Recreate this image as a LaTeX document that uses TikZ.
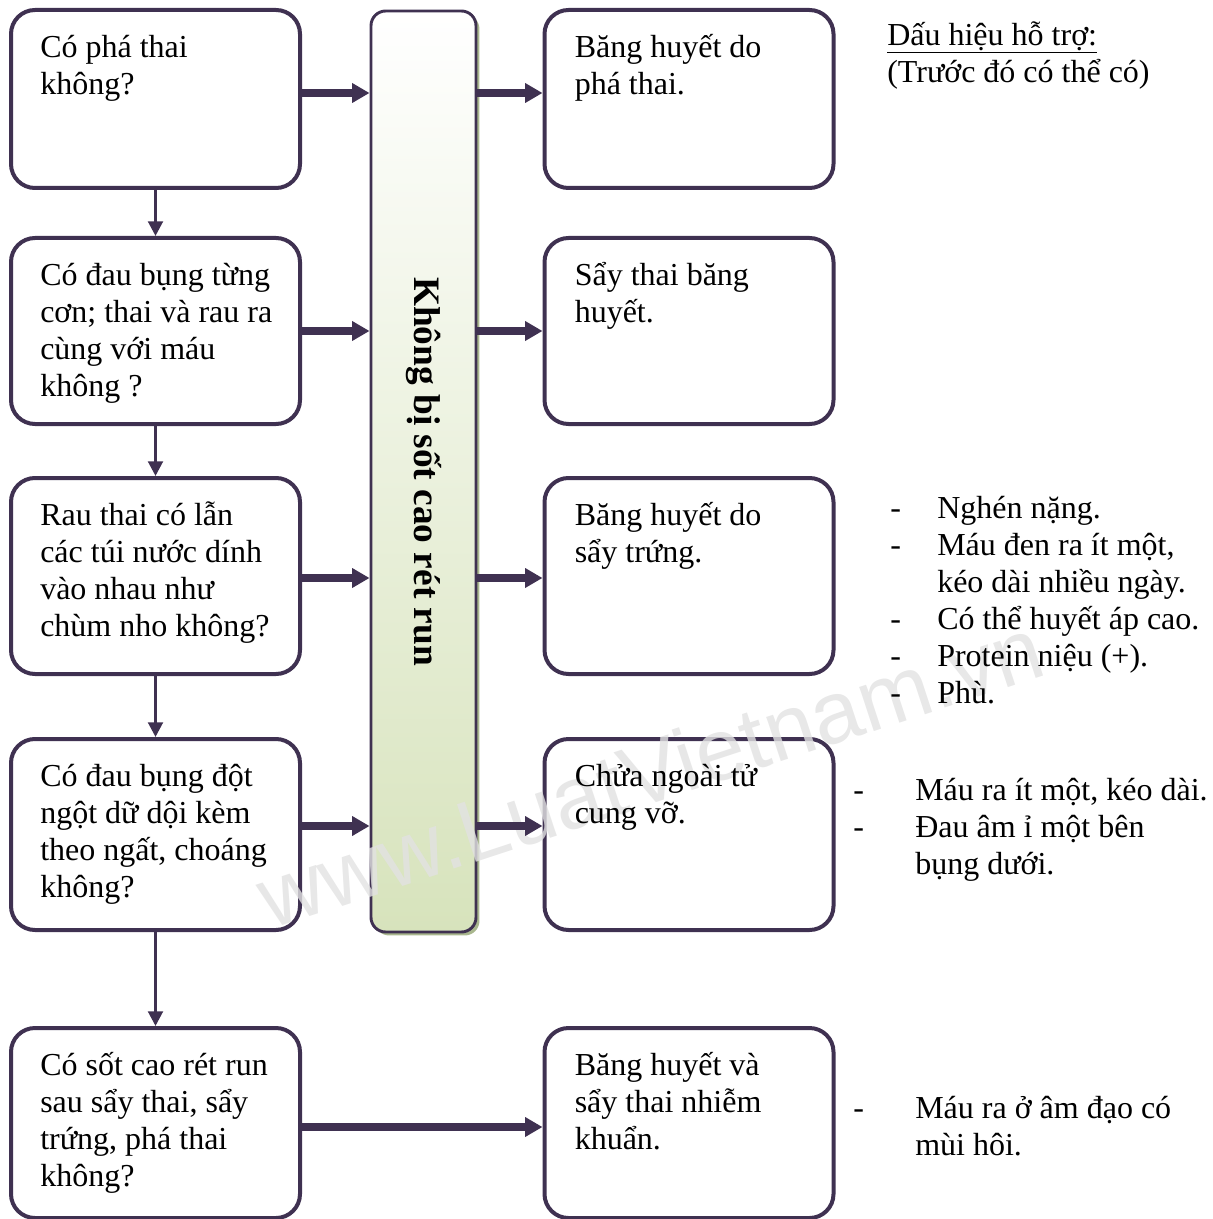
\documentclass[tikz,border=0pt]{standalone}
\usepackage{fontspec}
\setmainfont{Liberation Serif}
\newfontfamily\wmfont{Liberation Sans}
\usetikzlibrary{arrows.meta,calc,shadows}

\definecolor{edge}{HTML}{3F3151}
\definecolor{barbot}{HTML}{D7E3BC}
\definecolor{barshadow}{HTML}{A9B78E}
\definecolor{wmgray}{HTML}{E2E2E2}

% strut fixing the height of the first line of every text block
\newcommand\mystrut{\rule{0pt}{25pt}}
\newcommand\dashcol[1]{\makebox[#1][l]{-}}

\begin{document}
\begin{tikzpicture}[x=0.75pt,y=-0.75pt,
  box/.style={draw=edge, line width=3pt, rounded corners=18pt, fill=white,
    minimum width=216.75pt, inner sep=0pt},
  txt/.style={anchor=north west, inner sep=0pt, align=left,
    font=\fontsize{24pt}{27.75pt}\selectfont},
  bigarrow/.style={draw=edge, line width=5.5pt,
    -{Triangle[length=13pt,width=14pt]}},
  thinarrow/.style={draw=edge, line width=2.2pt,
    -{Triangle[length=11pt,width=11pt]}},
  barbox/.style={draw=edge, line width=2.2pt, rounded corners=11pt,
    top color=white, bottom color=barbot,
    drop shadow={shadow xshift=2.6pt, shadow yshift=-2.6pt, fill=barshadow, opacity=1},
    minimum width=78.75pt, minimum height=690.75pt, inner sep=0pt}
]
\useasboundingbox (0,0) rectangle (1212,1219);

% central bar
\node[barbox] (bar) at (423.5,471.5) {};

% question column
\node[box, minimum height=133.5pt] (L1) at (155.5,99) {};
\node[box, minimum height=139.5pt] (L2) at (155.5,331) {};
\node[box, minimum height=147pt]   (L3) at (155.5,576) {};
\node[box, minimum height=143.25pt](L4) at (155.5,834.5) {};
\node[box, minimum height=142.5pt] (L5) at (155.5,1123) {};

% diagnosis column
\node[box, minimum height=133.5pt] (R1) at (689,99) {};
\node[box, minimum height=139.5pt] (R2) at (689,331) {};
\node[box, minimum height=147pt]   (R3) at (689,576) {};
\node[box, minimum height=143.25pt](R4) at (689,834.5) {};
\node[box, minimum height=142.5pt] (R5) at (689,1123) {};

% site mark across the chart, under the lettering
\node[rotate=18.2, inner sep=0pt, text=wmgray, text opacity=0.8,
  font=\wmfont\fontsize{66pt}{70pt}\selectfont] (mark) at (650,772) {www.LuatVietnam.vn};

\node[rotate=-90, inner sep=0pt, font=\fontsize{28pt}{32pt}\selectfont\bfseries]
  (bartext) at (bar.center) {Không bị sốt cao rét run};

% texts in the boxes
\node[txt] (tL1) at ($(L1.north west)+(31,15.67)$) {\mystrut Có phá thai\\không?};
\node[txt] (tL2) at ($(L2.north west)+(31,15.67)$) {\mystrut Có đau bụng từng\\cơn; thai và rau ra\\cùng với máu\\không ?};
\node[txt] (tL3) at ($(L3.north west)+(31,15.67)$) {\mystrut Rau thai có lẫn\\các túi nước dính\\vào nhau như\\chùm nho không?};
\node[txt] (tL4) at ($(L4.north west)+(31,15.67)$) {\mystrut Có đau bụng đột\\ngột dữ dội kèm\\theo ngất, choáng\\không?};
\node[txt] (tL5) at ($(L5.north west)+(31,15.67)$) {\mystrut Có sốt cao rét run\\sau sẩy thai, sẩy\\trứng, phá thai\\không?};

\node[txt] (tR1) at ($(R1.north west)+(32,15.67)$) {\mystrut Băng huyết do\\phá thai.};
\node[txt] (tR2) at ($(R2.north west)+(32,15.67)$) {\mystrut Sẩy thai băng\\huyết.};
\node[txt] (tR3) at ($(R3.north west)+(32,15.67)$) {\mystrut Băng huyết do\\sẩy trứng.};
\node[txt] (tR4) at ($(R4.north west)+(32,15.67)$) {\mystrut Chửa ngoài tử\\cung vỡ.};
\node[txt] (tR5) at ($(R5.north west)+(32,15.67)$) {\mystrut Băng huyết và\\sẩy thai nhiễm\\khuẩn.};

% supporting signs
\node[txt] (head) at (887,11.67) {\mystrut\underline{Dấu hiệu hỗ trợ:}\\(Trước đó có thể có)};
\node[txt] (sign3) at (890,484.67) {\mystrut\dashcol{35.25pt}Nghén nặng.\\
  \dashcol{35.25pt}Máu đen ra ít một,\\
  \hspace*{35.25pt}kéo dài nhiều ngày.\\
  \dashcol{35.25pt}Có thể huyết áp cao.\\
  \dashcol{35.25pt}Protein niệu (+).\\
  \dashcol{35.25pt}Phù.};
\node[txt] (sign4) at (853,766.67) {\mystrut\dashcol{46.5pt}Máu ra ít một, kéo dài.\\
  \dashcol{46.5pt}Đau âm ỉ một bên\\
  \hspace*{46.5pt}bụng dưới.};
\node[txt] (sign5) at (853,1084.67) {\mystrut\dashcol{46.5pt}Máu ra ở âm đạo có\\
  \hspace*{46.5pt}mùi hôi.};

% connectors
\draw[thinarrow] (L1.south) -- (L2.north);
\draw[thinarrow] (L2.south) -- (L3.north);
\draw[thinarrow] (L3.south) -- (L4.north);
\draw[thinarrow] (L4.south) -- (L5.north);

\draw[bigarrow] (L1.east |- 0,93)  -- (bar.west |- 0,93);
\draw[bigarrow] (L2.east |- 0,331) -- (bar.west |- 0,331);
\draw[bigarrow] (L3.east |- 0,578) -- (bar.west |- 0,578);
\draw[bigarrow] (L4.east |- 0,826) -- (bar.west |- 0,826);

\draw[bigarrow] (bar.east |- 0,93)  -- (R1.west |- 0,93);
\draw[bigarrow] (bar.east |- 0,331) -- (R2.west |- 0,331);
\draw[bigarrow] (bar.east |- 0,578) -- (R3.west |- 0,578);
\draw[bigarrow] (bar.east |- 0,826) -- (R4.west |- 0,826);

\draw[bigarrow] (L5.east |- 0,1127) -- (R5.west |- 0,1127);
\end{tikzpicture}
\end{document}
